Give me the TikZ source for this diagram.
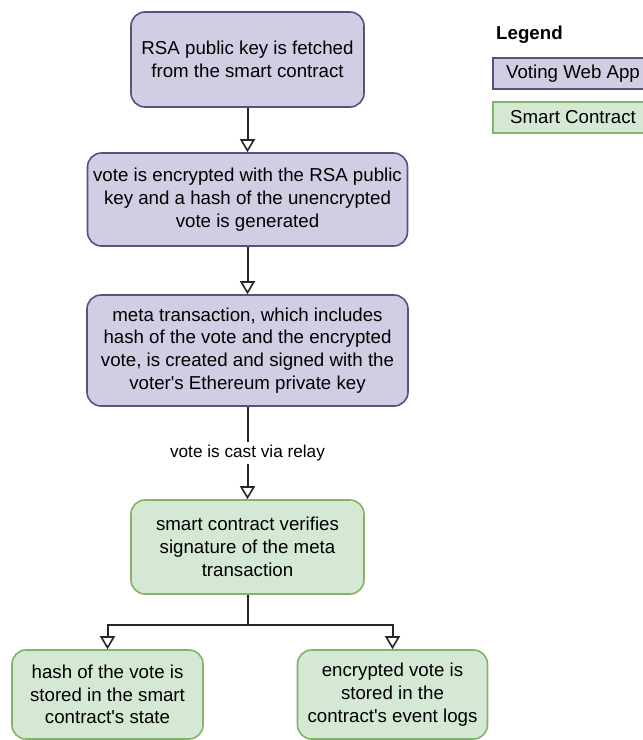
\documentclass[tikz,border=0pt]{standalone}
\usepackage{fontspec}
\setmainfont{Liberation Sans}
\usetikzlibrary{arrows.meta}
\definecolor{appfill}{HTML}{D0CEE2}
\definecolor{appline}{HTML}{56517E}
\definecolor{scfill}{HTML}{D5E8D4}
\definecolor{scline}{HTML}{82B366}
\newcommand{\apos}{\textquotesingle}
\begin{document}
\begin{tikzpicture}[x=1pt,y=-1pt,
  txt/.style={font=\fontsize{18.7}{22.8}\selectfont, align=center, inner sep=0pt},
  appbox/.style={txt, draw=appline, fill=appfill, line width=1.6pt, rounded corners=14pt},
  scbox/.style={txt, draw=scline, fill=scfill, line width=1.6pt, rounded corners=14pt},
  legbox/.style={txt, line width=1.6pt},
  arr/.style={line width=2pt, draw=black!85, -{Triangle[length=13pt,width=15pt,fill=white,line width=1.6pt]}},
  edgelabel/.style={font=\fontsize{17.2}{20}\selectfont, fill=white, inner sep=3pt}
]
\useasboundingbox (0,0) rectangle (643,740);
\clip (0,0) rectangle (643,740);

% process steps
\node[appbox, minimum width=233pt, minimum height=95pt] (fetch) at (247.5,59.5)
  {RSA public key is fetched\\from the smart contract};
\node[appbox, minimum width=320pt, minimum height=93pt] (encrypt) at (247.5,199.5)
  {vote is encrypted with the RSA public\\key and a hash of the unencrypted\\vote is generated};
\node[appbox, minimum width=321pt, minimum height=111pt] (meta) at (247.5,350.5)
  {meta transaction, which includes\\hash of the vote and the encrypted\\vote, is created and signed with the\\voter\apos s Ethereum private key};
\node[scbox, minimum width=233pt, minimum height=94pt] (verify) at (247.5,547)
  {smart contract verifies\\signature of the meta\\transaction};
\node[scbox, minimum width=191pt, minimum height=89pt] (state) at (107.5,694.5)
  {hash of the vote is\\stored in the smart\\contract\apos s state};
\node[scbox, minimum width=190pt, minimum height=89pt] (logs) at (392.5,694.5)
  {encrypted vote is\\stored in the\\contract\apos s event logs};

% connectors
\draw[arr] (fetch.south) -- (encrypt.north);
\draw[arr] (encrypt.south) -- (meta.north);
\draw[arr] (meta.south) -- node[edgelabel] (relay) {vote is cast via relay} (verify.north);
\coordinate (split) at (247.5,625);
\draw[line width=2pt, draw=black!85] (verify.south) -- (split);
\draw[arr] (split) -| (state.north);
\draw[arr] (split) -| (logs.north);

% legend
\node[font=\fontsize{18.7}{22.8}\selectfont\bfseries, anchor=west, inner sep=0pt] (legend) at (496,35) {Legend};
\node[legbox, draw=appline, fill=appfill, minimum width=160pt, minimum height=31pt] (legapp) at (573,73.5) {Voting Web App};
\node[legbox, draw=scline, fill=scfill, minimum width=160pt, minimum height=31pt] (legsc) at (573,117.5) {Smart Contract};
\end{tikzpicture}
\end{document}
